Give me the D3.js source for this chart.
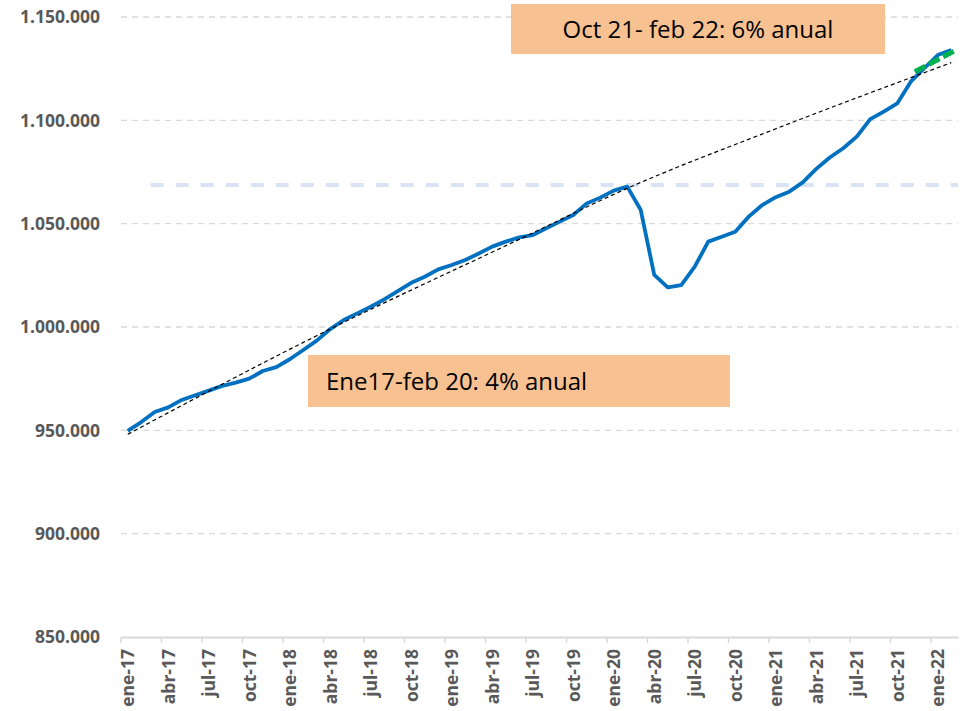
<!DOCTYPE html>
<html>
<head>
<meta charset="utf-8">
<script src="https://cdn.jsdelivr.net/npm/d3@7"></script>
<style>
  body { margin: 0; background: #fff; }
  svg text { font-family: "Open Sans", sans-serif; }
</style>
</head>
<body>
<script>
// months ene-17 .. feb-22
const monthNames = ["ene","feb","mar","abr","may","jun","jul","ago","sep","oct","nov","dic"];
const years = ["17","18","19","20","21","22"];
const months = [];
years.forEach(function(y){ monthNames.forEach(function(m){ months.push(m + "-" + y); }); });
months.splice(62);

const tickLabels = ["ene-17","abr-17","jul-17","oct-17","ene-18","abr-18","jul-18","oct-18",
  "ene-19","abr-19","jul-19","oct-19","ene-20","abr-20","jul-20","oct-20",
  "ene-21","abr-21","jul-21","oct-21","ene-22"];

const values = [949700, 954000, 958900, 961100, 964700, 967000, 969200, 971500, 973100, 975000,
  978700, 980600, 984400, 988900, 993400, 999000, 1003400, 1006600, 1009800, 1013400,
  1017400, 1021400, 1024300, 1027900, 1030000, 1032400, 1035600, 1038900, 1041300, 1043400,
  1044500, 1047800, 1051000, 1054200, 1059800, 1062600, 1066000, 1067900, 1056600, 1025200,
  1019200, 1020300, 1029200, 1041300, 1043700, 1046100, 1053400, 1059000, 1062800, 1065500,
  1070000, 1076500, 1082000, 1086500, 1092100, 1100600, 1104200, 1108200, 1118700, 1125200,
  1131600, 1134000];

// trend lines: [month index, value]
const trendPre = [[0, 948100], [14, 995800], [29, 1042400], [37, 1067100], [48, 1095900], [61, 1127900]];
const trendNew = [[58.3, 1123500], [61.4, 1134200]];
const peakLevel = 1068700;

const yTicks = [850000, 900000, 950000, 1000000, 1050000, 1100000, 1150000];

const notes = [
  {text: "Oct 21- feb 22: 6% anual"},
  {text: "Ene17-feb 20: 4% anual"}
];

var W = 966, H = 711;
var mLeft = 121, mRight = 958, mTop = 17, mBottom = 637;

var svg = d3.select("body").append("svg")
    .attr("width", W)
    .attr("height", H);

var x = d3.scaleBand().domain(months).range([mLeft, mRight]).padding(0);
var xi = d3.scaleLinear().domain([-0.5, months.length - 0.5]).range([mLeft, mRight]);
var y = d3.scaleLinear().domain([850000, 1150000]).range([mBottom, mTop]);

var es = d3.formatLocale({decimal: ",", thousands: ".", grouping: [3], currency: ["", ""]});
var fmt = es.format(",.0f");

// gridlines
svg.selectAll(".grid")
    .data(yTicks.slice(1))
    .enter()
    .append("line")
    .attr("x1", mLeft)
    .attr("x2", mRight)
    .attr("y1", function(d){ return y(d); })
    .attr("y2", function(d){ return y(d); })
    .attr("stroke", "#d9d9d9")
    .attr("stroke-width", 1.3)
    .attr("stroke-dasharray", "6,5");

// y labels
svg.selectAll(".ylab")
    .data(yTicks)
    .enter()
    .append("text")
    .attr("x", 100)
    .attr("y", function(d){ return y(d); })
    .attr("dy", "0.36em")
    .attr("text-anchor", "end")
    .attr("font-size", 17.5)
    .attr("font-weight", 700)
    .attr("fill", "#595959")
    .text(function(d){ return fmt(d); });

// x axis
var xAxis = d3.axisBottom(x)
    .tickValues(tickLabels)
    .tickSize(0)
    .tickPadding(0);
var gx = svg.append("g").attr("transform", "translate(0," + mBottom + ")").call(xAxis);
gx.select(".domain").attr("stroke", "#d9d9d9").attr("stroke-width", 2);
gx.selectAll(".tick text")
    .attr("font-size", 17.5)
    .attr("font-weight", 700)
    .attr("fill", "#595959")
    .attr("text-anchor", "end")
    .attr("transform", "rotate(-90)")
    .attr("x", -12)
    .attr("y", 0)
    .attr("dy", "0.36em")
    .style("font-family", "'Open Sans', sans-serif");

// tick marks between categories, every quarter
svg.selectAll(".tk")
    .data(tickLabels)
    .enter()
    .append("line")
    .attr("x1", function(d){ return x(d); })
    .attr("x2", function(d){ return x(d); })
    .attr("y1", mBottom)
    .attr("y2", mBottom + 6)
    .attr("stroke", "#d9d9d9")
    .attr("stroke-width", 1.5);

// peak level reference
svg.append("line")
    .attr("x1", xi(1.7))
    .attr("x2", mRight)
    .attr("y1", y(peakLevel))
    .attr("y2", y(peakLevel))
    .attr("stroke", "#dae3f3")
    .attr("stroke-width", 4)
    .attr("stroke-dasharray", "13,12");

// main series
var line = d3.line()
    .x(function(d, i){ return x(months[i]) + x.bandwidth() / 2; })
    .y(function(d){ return y(d); });

svg.append("path")
    .datum(values)
    .attr("d", line)
    .attr("fill", "none")
    .attr("stroke", "#0070c0")
    .attr("stroke-width", 3.8)
    .attr("stroke-linejoin", "round");

// trend lines
var tline = d3.line()
    .x(function(d){ return xi(d[0]); })
    .y(function(d){ return y(d[1]); })
    .curve(d3.curveMonotoneX);

svg.append("path")
    .datum(trendPre)
    .attr("d", tline)
    .attr("fill", "none")
    .attr("stroke", "#000")
    .attr("stroke-width", 1.2)
    .attr("stroke-dasharray", "4,3");

svg.append("path")
    .datum(trendNew)
    .attr("d", tline)
    .attr("fill", "none")
    .attr("stroke", "#00b050")
    .attr("stroke-width", 5)
    .attr("stroke-dasharray", "12,4");

// notes
var boxes = [
  {x: 511, y: 4, w: 374, h: 50, anchor: "middle", tx: 698},
  {x: 308, y: 355, w: 422, h: 52, anchor: "start", tx: 326}
];

svg.selectAll(".note")
    .data(notes)
    .enter()
    .append("rect")
    .attr("x", function(d, i){ return boxes[i].x; })
    .attr("y", function(d, i){ return boxes[i].y; })
    .attr("width", function(d, i){ return boxes[i].w; })
    .attr("height", function(d, i){ return boxes[i].h; })
    .attr("fill", "#f8c192");

svg.selectAll(".notetext")
    .data(notes)
    .enter()
    .append("text")
    .attr("x", function(d, i){ return boxes[i].tx; })
    .attr("y", function(d, i){ return boxes[i].y + boxes[i].h / 2; })
    .attr("dy", "0.36em")
    .attr("text-anchor", function(d, i){ return boxes[i].anchor; })
    .attr("font-size", 24)
    .attr("fill", "#000")
    .text(function(d){ return d.text; });
</script>
</body>
</html>
